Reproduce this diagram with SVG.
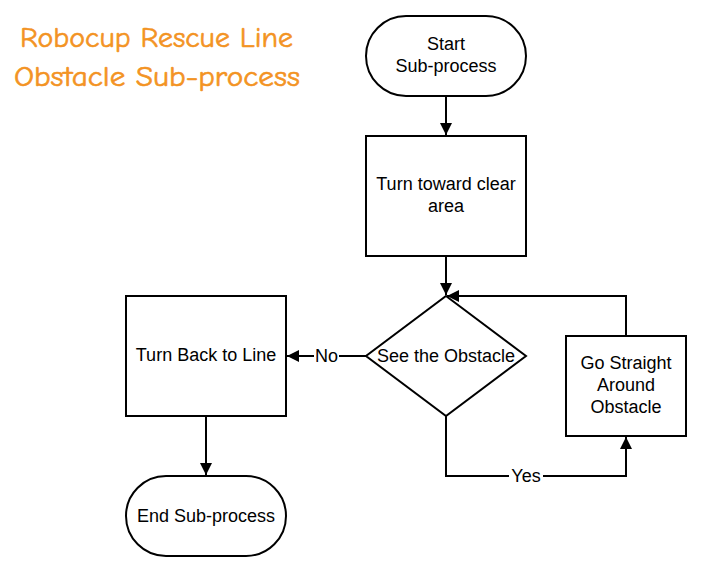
<svg xmlns="http://www.w3.org/2000/svg" width="714" height="577" viewBox="0 0 714 577">
<style>
.s{fill:#fff;stroke:#000;stroke-width:2}
.t{font-family:"Liberation Sans",Arial,sans-serif;font-size:18px;fill:#000;text-anchor:middle}
.c{fill:none;stroke:#000;stroke-width:2}
.title{font-family:"Comic Neue","Noto Sans","Liberation Sans",sans-serif;font-size:29px;fill:#F39323;stroke:#F39323;stroke-width:0.6}
</style>
<defs>
<marker id="a" markerWidth="12" markerHeight="12" refX="10" refY="5" orient="auto" markerUnits="userSpaceOnUse" viewBox="0 0 10 10">
<path d="M0,0 L10,5 L0,10 z" fill="#000"/>
</marker>
</defs>
<rect width="714" height="577" fill="#fff"/>
<g id="title">
<text class="title" x="20" y="47" textLength="273" lengthAdjust="spacingAndGlyphs">Robocup Rescue Line</text>
<text class="title" x="14" y="86" textLength="286" lengthAdjust="spacingAndGlyphs">Obstacle Sub-process</text>
</g>
<g id="connectors">
<path class="c" d="M446,96 V135" marker-end="url(#a)"/>
<path class="c" d="M446,256 V295" marker-end="url(#a)"/>
<path class="c" d="M366,356 H287" marker-end="url(#a)"/>
<path class="c" d="M446,416 V476 H626 V437" marker-end="url(#a)"/>
<path class="c" d="M626,336 V296 H447" marker-end="url(#a)"/>
<path class="c" d="M206,416 V475" marker-end="url(#a)"/>
<rect x="314" y="345" width="25" height="20" fill="#fff"/>
<text class="t" x="326.5" y="362">No</text>
<rect x="509" y="466" width="34" height="20" fill="#fff"/>
<text class="t" x="526" y="482">Yes</text>
</g>
<g id="start">
<rect class="s" x="366" y="16" width="160" height="80" rx="40"/>
<text class="t" x="446" y="50">Start</text>
<text class="t" x="446" y="72">Sub-process</text>
</g>
<g id="turn-clear">
<rect class="s" x="366" y="136" width="160" height="120"/>
<text class="t" x="446" y="190">Turn toward clear</text>
<text class="t" x="446" y="212">area</text>
</g>
<g id="see-obstacle">
<path class="s" d="M446,296 L526,356 L446,416 L366,356 z"/>
<text class="t" x="446" y="362">See the Obstacle</text>
</g>
<g id="turn-back">
<rect class="s" x="126" y="296" width="160" height="120"/>
<text class="t" x="206" y="361">Turn Back to Line</text>
</g>
<g id="go-straight">
<rect class="s" x="566" y="336" width="120" height="100"/>
<text class="t" x="626" y="369">Go Straight</text>
<text class="t" x="626" y="391">Around</text>
<text class="t" x="626" y="413">Obstacle</text>
</g>
<g id="end">
<rect class="s" x="126" y="476" width="160" height="80" rx="40"/>
<text class="t" x="206" y="522">End Sub-process</text>
</g>
</svg>
